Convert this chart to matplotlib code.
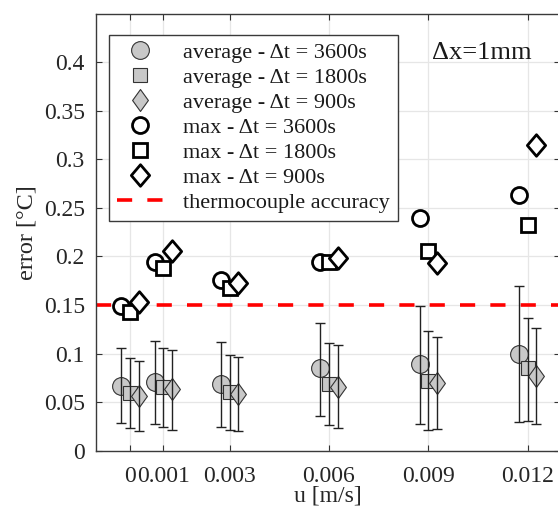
import numpy as np
import matplotlib
matplotlib.use("Agg")
import matplotlib.pyplot as plt
from matplotlib.lines import Line2D
from matplotlib.path import Path

plt.rcParams['font.family'] = ['Liberation Serif', 'DejaVu Serif']

# flow velocity u [m/s]
u = np.array([0.0, 0.001, 0.003, 0.006, 0.009, 0.012])
u_ticks = ['0', '0.001', '0.003', '0.006', '0.009', '0.012']

# average error with its lower/upper bounds
avg_3600 = [0.067, 0.071, 0.069, 0.085, 0.089, 0.100]
lo_3600 = [0.029, 0.028, 0.024, 0.036, 0.028, 0.030]
hi_3600 = [0.106, 0.113, 0.112, 0.131, 0.149, 0.170]

avg_1800 = [0.059, 0.066, 0.060, 0.069, 0.072, 0.085]
lo_1800 = [0.023, 0.024, 0.021, 0.026, 0.021, 0.031]
hi_1800 = [0.095, 0.106, 0.099, 0.111, 0.123, 0.137]

avg_900 = [0.056, 0.063, 0.058, 0.066, 0.070, 0.077]
lo_900 = [0.020, 0.021, 0.020, 0.023, 0.022, 0.028]
hi_900 = [0.092, 0.104, 0.096, 0.109, 0.117, 0.126]

# maximum error
max_3600 = [0.149, 0.194, 0.176, 0.194, 0.239, 0.263]
max_1800 = [0.143, 0.188, 0.167, 0.194, 0.206, 0.232]
max_900 = [0.153, 0.205, 0.173, 0.198, 0.193, 0.315]

accuracy = 0.15
shift = 0.00026
gray = '#c8c8c8'


def diamond(ratio):
    # diamond marker, slightly taller than wide
    return Path([(0, 1), (ratio, 0), (0, -1), (-ratio, 0), (0, 1)],
                [Path.MOVETO, Path.LINETO, Path.LINETO, Path.LINETO, Path.CLOSEPOLY])


d_avg = diamond(0.72)
d_max = diamond(0.85)

avg_style = dict(mfc=gray, mec='#333333', mew=0.8)
max_style = dict(mfc='white', mec='black', mew=2.0)

# marker shape and size per time step: (avg marker, max marker, avg size, max size)
m3600 = ('o', 'o', 12.8, 11.5)
m1800 = ('s', 's', 10.3, 10.0)
m900 = (d_avg, d_max, 15.8, 15.5)

fig = plt.figure(figsize=(5.58, 5.12), dpi=100)
ax = fig.add_axes([0.172, 0.1197, 0.8315, 0.853])

series = [
    (-shift, avg_3600, lo_3600, hi_3600, max_3600, m3600),
    (0.0, avg_1800, lo_1800, hi_1800, max_1800, m1800),
    (shift, avg_900, lo_900, hi_900, max_900, m900),
]
for dx, avg, lo, hi, mx, (m_avg, m_max, ms_avg, ms_max) in series:
    xs = u + dx
    avg = np.array(avg)
    yerr = [avg - np.array(lo), np.array(hi) - avg]
    ax.plot(xs, avg, ls='none', marker=m_avg, ms=ms_avg, zorder=3, **avg_style)
    ax.errorbar(xs, avg, yerr=yerr, fmt='none', ecolor='#222222', elinewidth=1.0,
                capsize=3.5, capthick=1.0, zorder=4)
    ax.plot(xs, mx, ls='none', marker=m_max, ms=ms_max, zorder=5, **max_style)

ax.axhline(accuracy, color='red', lw=2.6, dashes=(4.2, 4.2), zorder=2)

ax.set_xlim(-0.00103, 0.01297)
ax.set_ylim(0, 0.4494)
ax.set_xticks(u)
ax.set_xticklabels(u_ticks)
ax.set_yticks(np.arange(0, 0.401, 0.05))
ax.set_yticklabels(['0', '0.05', '0.1', '0.15', '0.2', '0.25', '0.3', '0.35', '0.4'])
ax.tick_params(direction='in', length=4, width=0.8, colors='#333333',
               labelcolor='#262626', labelsize=17, top=True, right=True)
ax.tick_params(axis='x', pad=11)
ax.tick_params(axis='y', pad=8)
ax.grid(True, color='#e6e6e6', lw=0.9)
ax.set_axisbelow(True)
for s in ax.spines.values():
    s.set_color('#3a3a3a')
    s.set_linewidth(1.0)

ax.set_xlabel('u [m/s]', fontsize=17, color='#262626')
ax.set_ylabel('error [°C]', fontsize=17.5, color='#262626')
ax.xaxis.set_label_coords(0.5, -0.079)
ax.yaxis.set_label_coords(-0.127, 0.5)

ax.text(0.7235, 0.911, 'Δx=1mm', transform=ax.transAxes, fontsize=19,
        va='center', ha='left', color='#1a1a1a')

handles = [
    Line2D([], [], ls='none', marker=m3600[0], ms=m3600[2], **avg_style),
    Line2D([], [], ls='none', marker=m1800[0], ms=m1800[2], **avg_style),
    Line2D([], [], ls='none', marker=m900[0], ms=m900[2], **avg_style),
    Line2D([], [], ls='none', marker=m3600[1], ms=m3600[3], **max_style),
    Line2D([], [], ls='none', marker=m1800[1], ms=m1800[3], **max_style),
    Line2D([], [], ls='none', marker=m900[1], ms=m900[3], **max_style),
    Line2D([], [], color='red', lw=2.6, dashes=(4.2, 4.2)),
]
labels = [
    'average - Δt = 3600s',
    'average - Δt = 1800s',
    'average - Δt = 900s',
    'max - Δt = 3600s',
    'max - Δt = 1800s',
    'max - Δt = 900s',
    'thermocouple accuracy',
]
leg = ax.legend(handles, labels, loc='upper left', bbox_to_anchor=(0.028, 0.9526),
                borderaxespad=0, fontsize=16, labelspacing=0.2, handlelength=2.1,
                handletextpad=0.9, borderpad=0.35, fancybox=False, framealpha=1,
                edgecolor='#3a3a3a')
leg.get_frame().set_linewidth(1.0)
for t in leg.get_texts():
    t.set_color('#1a1a1a')

fig.savefig('out.png', dpi=100)
